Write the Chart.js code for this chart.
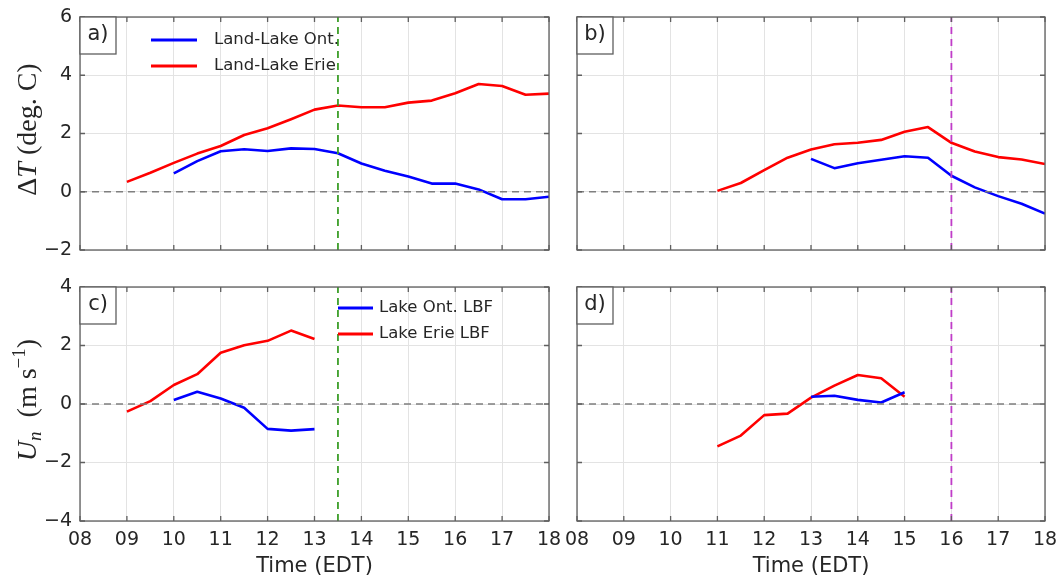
<!DOCTYPE html>
<html><head><meta charset="utf-8">
<script src="https://cdn.jsdelivr.net/npm/chart.js@4"></script>
<style>
html,body{margin:0;padding:0;background:#fff;}
#wrap{position:relative;width:1060px;height:580px;overflow:hidden;background:#fff;}
canvas{position:absolute;left:0;top:0;}
</style></head><body><div id="wrap">
<canvas id="ca" width="1060" height="580"></canvas>
<canvas id="cb" width="1060" height="580"></canvas>
<canvas id="cc" width="1060" height="580"></canvas>
<canvas id="cd" width="1060" height="580"></canvas>
</div>
<script>
// ---------- data ----------
const xTickValues = [8,9,10,11,12,13,14,15,16,17,18];
const xTickLabels = ['08','09','10','11','12','13','14','15','16','17','18'];
const yTicksT = [-2,0,2,4,6];
const yTicksU = [-4,-2,0,2,4];

// panel a: Delta T, period 1
const hoursErieA = [9,9.5,10,10.5,11,11.5,12,12.5,13,13.5,14,14.5,15,15.5,16,16.5,17,17.5,18];
const erieA = [0.34,0.65,0.99,1.31,1.57,1.95,2.18,2.49,2.82,2.96,2.90,2.90,3.06,3.13,3.38,3.70,3.63,3.33,3.37];
const hoursOntA = [10,10.5,11,11.5,12,12.5,13,13.5,14,14.5,15,15.5,16,16.5,17,17.5,18];
const ontA = [0.63,1.05,1.39,1.46,1.40,1.49,1.47,1.32,0.97,0.72,0.52,0.28,0.28,0.08,-0.26,-0.26,-0.17];

// panel b: Delta T, period 2
const hoursErieB = [11,11.5,12,12.5,13,13.5,14,14.5,15,15.5,16,16.5,17,17.5,18];
const erieB = [0.03,0.30,0.74,1.17,1.45,1.63,1.68,1.78,2.06,2.22,1.68,1.38,1.19,1.11,0.95];
const hoursOntB = [13,13.5,14,14.5,15,15.5,16,16.5,17,17.5,18];
const ontB = [1.13,0.81,0.98,1.10,1.22,1.17,0.55,0.15,-0.15,-0.41,-0.75];

// panel c: U_n, period 1
const hoursErieC = [9,9.5,10,10.5,11,11.5,12,12.5,13];
const erieC = [-0.26,0.10,0.65,1.02,1.75,2.01,2.16,2.51,2.22];
const hoursOntC = [10,10.5,11,11.5,12,12.5,13];
const ontC = [0.14,0.42,0.19,-0.13,-0.85,-0.91,-0.86];

// panel d: U_n, period 2
const hoursErieD = [11,11.5,12,12.5,13,13.5,14,14.5,15];
const erieD = [-1.45,-1.08,-0.38,-0.33,0.22,0.63,0.99,0.88,0.25];
const hoursOntD = [13,13.5,14,14.5,15];
const ontD = [0.25,0.28,0.14,0.05,0.40];

const refTimeAC = 13.5;
const refTimeBD = 16;
const legendT = ['Land-Lake Ont.', 'Land-Lake Erie'];
const legendU = ['Lake Ont. LBF', 'Lake Erie LBF'];

// ---------- drawing ----------
const TXT = '#262626';
const BOX = '#5f5f5f';
const SANS = '"DejaVu Sans", sans-serif';
const SERIF = '"Liberation Serif", "DejaVu Serif", serif';
const YAXW = 50, XAXH = 44;

function zip(xs, ys){ return xs.map((x,i)=>({x:x, y:ys[i]})); }
function fmtY(v){ return v < 0 ? '\u2212' + Math.abs(v) : String(v); }

function drawRuns(ctx, runs, cx, cy, baseOff){
  ctx.save();
  ctx.translate(cx, cy);
  ctx.rotate(-Math.PI/2);
  let total = 0;
  runs.forEach(r=>{ ctx.font = r.font; r.w = ctx.measureText(r.text).width; total += r.w; });
  let x = -total/2;
  ctx.fillStyle = TXT;
  ctx.textBaseline = 'alphabetic';
  ctx.textAlign = 'left';
  runs.forEach(r=>{ ctx.font = r.font; ctx.fillText(r.text, x, baseOff + (r.dy||0)); x += r.w; });
  ctx.restore();
}

function makePanel(canvasId, p){
  const deco = {
    id: 'deco_' + canvasId,
    afterDatasetsDraw(chart){
      const ctx = chart.ctx, a = chart.chartArea;
      const xs = chart.scales.x, ys = chart.scales.y;
      ctx.save();
      // box
      ctx.strokeStyle = BOX; ctx.lineWidth = 1.3;
      ctx.strokeRect(a.left, a.top, a.right - a.left, a.bottom - a.top);
      // inside ticks
      ctx.beginPath();
      const tl = 5;
      xTickValues.forEach(v=>{
        const px = xs.getPixelForValue(v);
        ctx.moveTo(px, a.bottom); ctx.lineTo(px, a.bottom - tl);
        ctx.moveTo(px, a.top); ctx.lineTo(px, a.top + tl);
      });
      p.yTicks.forEach(v=>{
        const py = ys.getPixelForValue(v);
        ctx.moveTo(a.left, py); ctx.lineTo(a.left + tl, py);
        ctx.moveTo(a.right, py); ctx.lineTo(a.right - tl, py);
      });
      ctx.stroke();
      // panel label box
      ctx.fillStyle = '#fff';
      ctx.fillRect(a.left, a.top, 36, 37);
      ctx.strokeRect(a.left, a.top, 36, 37);
      ctx.fillStyle = TXT;
      ctx.font = '21px ' + SANS;
      ctx.textAlign = 'center'; ctx.textBaseline = 'middle';
      ctx.fillText(p.tag, a.left + 18, a.top + 18);
      // legend
      if (p.legend){
        const L = p.legend;
        const ds = chart.data.datasets;
        [2,3].forEach((di, k)=>{
          const y = L.y0 + k * L.dy;
          ctx.strokeStyle = ds[di].borderColor; ctx.lineWidth = 3;
          ctx.beginPath(); ctx.moveTo(L.x0, y); ctx.lineTo(L.x1, y); ctx.stroke();
          ctx.fillStyle = TXT; ctx.font = L.font + 'px ' + SANS;
          ctx.textAlign = 'left'; ctx.textBaseline = 'middle';
          ctx.fillText(ds[di].label, L.tx, y);
        });
      }
      // x title
      if (p.showX){
        ctx.fillStyle = TXT; ctx.font = '21px ' + SANS;
        ctx.textAlign = 'center'; ctx.textBaseline = 'middle';
        ctx.fillText('Time (EDT)', (a.left + a.right)/2, 567);
      }
      ctx.restore();
      if (p.yTitle){
        drawRuns(ctx, p.yTitle, 27, (a.top + a.bottom)/2 - 4, 9);
      }
    }
  };

  const datasets = [
    {label:'ref', data:[{x:p.refTime, y:p.yMin},{x:p.refTime, y:p.yMax}], borderColor:p.refColor, borderDash:[7,5], borderWidth:1.8},
    {label:'zero', data:[{x:xTickValues[0], y:0},{x:xTickValues[xTickValues.length-1], y:0}], borderColor:'#7f7f7f', borderDash:[7,5], borderWidth:1.5},
    {label:p.names[0], data:zip(p.ontT, p.ontV), borderColor:'#0000ff', borderWidth:2.6},
    {label:p.names[1], data:zip(p.erieT, p.erieV), borderColor:'#ff0000', borderWidth:2.6}
  ];

  const yw = p.showY ? YAXW : 0;
  const xh = p.showX ? XAXH : 0;

  return new Chart(document.getElementById(canvasId), {
    type:'line',
    data:{datasets},
    options:{
      responsive:false, animation:false,
      layout:{padding:{left:p.area.left - yw, top:p.area.top, right:1060 - p.area.right, bottom:580 - p.area.bottom - xh}},
      plugins:{legend:{display:false}, tooltip:{enabled:false}},
      elements:{point:{radius:0, hoverRadius:0}, line:{tension:0, fill:false, borderJoinStyle:'round', borderCapStyle:'butt'}},
      scales:{
        x:{type:'linear', min:xTickValues[0], max:xTickValues[xTickValues.length-1],
           afterFit:s=>{ s.height = xh; s.paddingLeft = 0; s.paddingRight = 0; },
           afterBuildTicks:s=>{ s.ticks = xTickValues.map(v=>({value:v})); },
           ticks:{display:p.showX, autoSkip:false, maxRotation:0, minRotation:0, padding:8, color:TXT, font:{family:SANS, size:19},
                  callback:(v)=>xTickLabels[xTickValues.indexOf(v)]},
           grid:{color:'#e3e3e3', lineWidth:1, drawTicks:false}, border:{display:false}},
        y:{type:'linear', min:p.yMin, max:p.yMax,
           afterFit:s=>{ s.width = yw; s.paddingTop = 0; s.paddingBottom = 0; },
           afterBuildTicks:s=>{ s.ticks = p.yTicks.map(v=>({value:v})); },
           ticks:{display:p.showY, autoSkip:false, padding:8, color:TXT, font:{family:SANS, size:19}, callback:(v)=>fmtY(v)},
           grid:{color:'#e3e3e3', lineWidth:1, drawTicks:false}, border:{display:false}}
      }
    },
    plugins:[deco]
  });
}

const titleT = [
  {text:'\u0394', font:'28px ' + SERIF},
  {text:'T', font:'italic 28px ' + SERIF},
  {text:' (deg. C)', font:'28px ' + SERIF}
];
const titleU = [
  {text:'U', font:'italic 28px ' + SERIF},
  {text:'n', font:'italic 19px ' + SERIF, dy:5},
  {text:'  (m s', font:'28px ' + SERIF},
  {text:'\u22121', font:'19px ' + SERIF, dy:-11},
  {text:')', font:'28px ' + SERIF}
];

makePanel('ca', {tag:'a)', area:{left:80, right:549, top:17, bottom:250}, yMin:-2, yMax:6, yTicks:yTicksT,
  showX:false, showY:true, refTime:refTimeAC, refColor:'#3c9e28', names:legendT,
  ontT:hoursOntA, ontV:ontA, erieT:hoursErieA, erieV:erieA, yTitle:titleT,
  legend:{x0:151, x1:197, tx:214, y0:40, dy:26, font:16.5}});
makePanel('cb', {tag:'b)', area:{left:577, right:1045, top:17, bottom:250}, yMin:-2, yMax:6, yTicks:yTicksT,
  showX:false, showY:false, refTime:refTimeBD, refColor:'#c03cc8', names:legendT,
  ontT:hoursOntB, ontV:ontB, erieT:hoursErieB, erieV:erieB});
makePanel('cc', {tag:'c)', area:{left:80, right:549, top:287, bottom:521}, yMin:-4, yMax:4, yTicks:yTicksU,
  showX:true, showY:true, refTime:refTimeAC, refColor:'#3c9e28', names:legendU,
  ontT:hoursOntC, ontV:ontC, erieT:hoursErieC, erieV:erieC, yTitle:titleU,
  legend:{x0:338, x1:373, tx:379, y0:308, dy:26, font:16.5}});
makePanel('cd', {tag:'d)', area:{left:577, right:1045, top:287, bottom:521}, yMin:-4, yMax:4, yTicks:yTicksU,
  showX:true, showY:false, refTime:refTimeBD, refColor:'#c03cc8', names:legendU,
  ontT:hoursOntD, ontV:ontD, erieT:hoursErieD, erieV:erieD});
</script>
</body></html>
